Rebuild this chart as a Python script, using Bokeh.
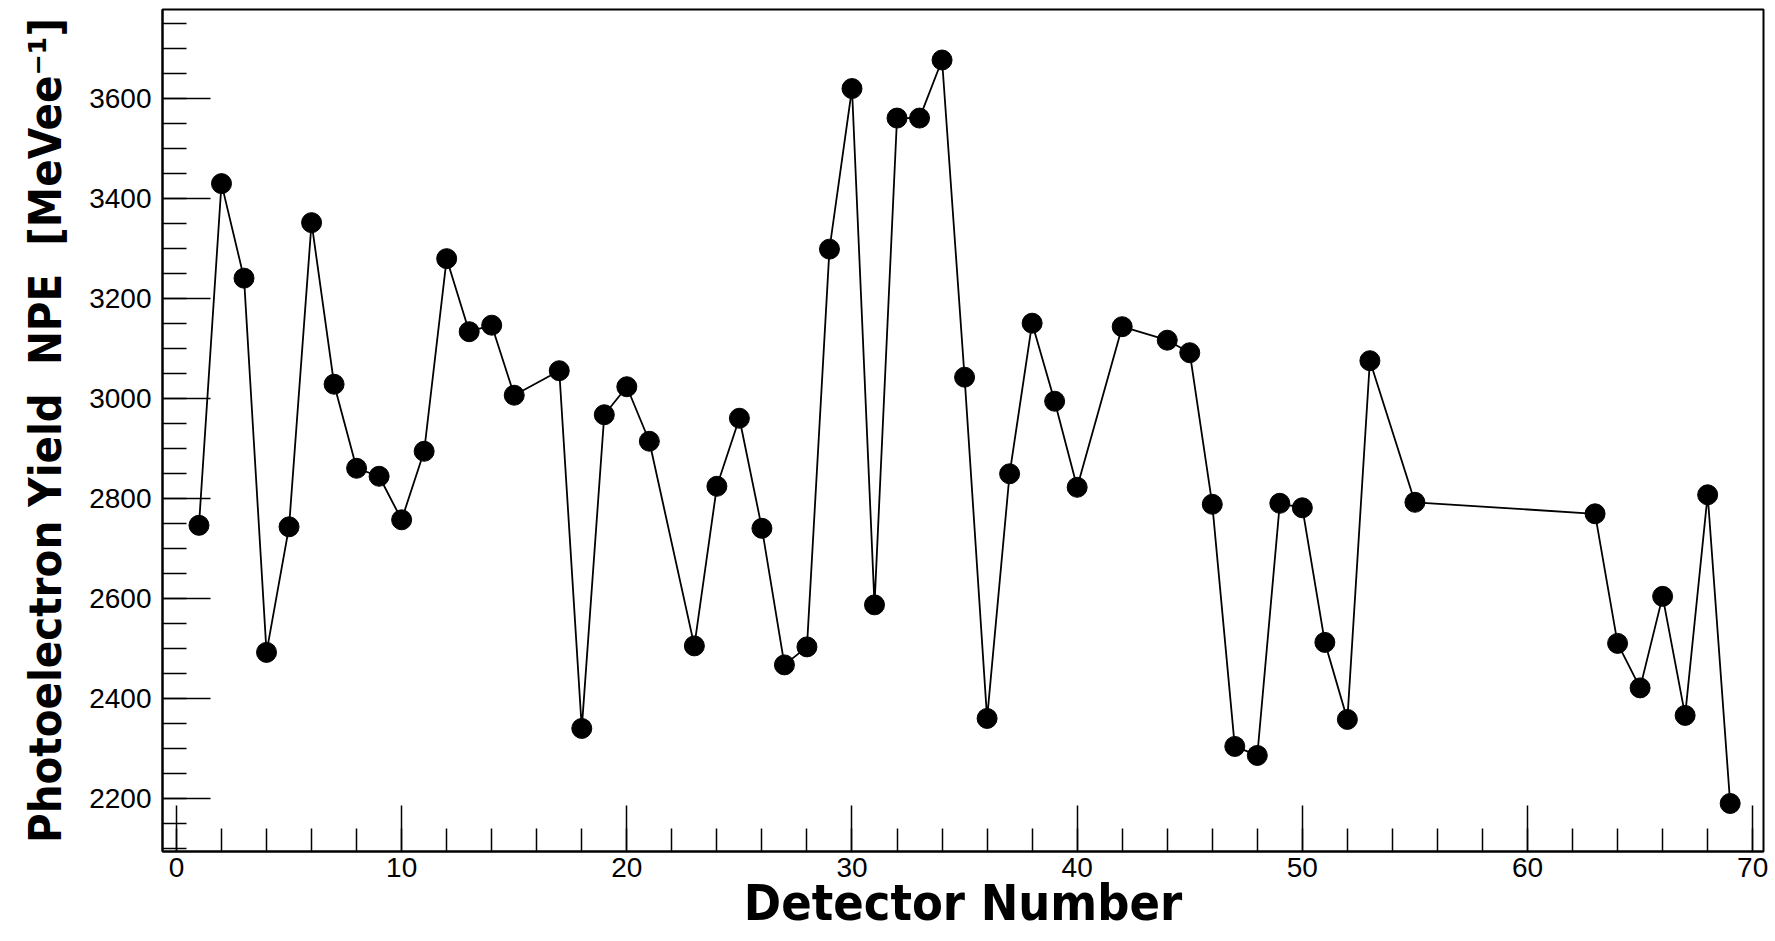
from bokeh.plotting import figure
from bokeh.models import SingleIntervalTicker, Range1d, ColumnDataSource
from bokeh.embed import file_html
from bokeh.resources import INLINE

# ---- data ----
detector = [1, 2, 3, 4, 5, 6, 7, 8, 9, 10, 11, 12, 13, 14, 15,
            17, 18, 19, 20, 21,
            23, 24, 25, 26, 27, 28, 29, 30, 31, 32, 33, 34, 35, 36, 37, 38, 39, 40,
            42,
            44, 45, 46, 47, 48, 49, 50, 51, 52, 53,
            55,
            63, 64, 65, 66, 67, 68, 69]
npe_yield = [2746, 3429, 3240, 2492, 2743, 3351, 3028, 2860, 2844, 2757, 2894, 3279, 3133, 3146, 3006,
             3055, 2340, 2967, 3023, 2914,
             2505, 2824, 2960, 2740, 2467, 2503, 3298, 3619, 2587, 3560, 3560, 3676, 3042, 2360, 2849, 3150, 2994, 2822,
             3143,
             3116, 3091, 2788, 2304, 2286, 2790, 2781, 2512, 2358, 3075,
             2792,
             2769, 2510, 2421, 2604, 2366, 2807, 2190]

x_title = "Detector Number"
y_title = "Photoelectron Yield\u00a0 NPE\u00a0 [MeVee\u207b\u00b9]"

TITLE_FONT = "DejaVu Sans Condensed"
TICK_FONT = "Liberation Sans"

X0, X1 = -0.62, 70.48
Y0, Y1 = 2094, 3777

src = ColumnDataSource(dict(x=detector, y=npe_yield))

W, H = 1775, 941
p = figure(width=W, height=H, output_backend="svg", toolbar_location=None,
           x_range=Range1d(X0, X1), y_range=Range1d(Y0, Y1),
           min_border_left=162, min_border_right=12, min_border_top=9, min_border_bottom=90)

p.background_fill_color = "white"
p.border_fill_color = "white"
p.outline_line_color = "black"
p.outline_line_width = 2
p.xgrid.visible = False
p.ygrid.visible = False

p.line("x", "y", source=src, line_color="black", line_width=1.8)
p.scatter("x", "y", source=src, size=20, marker="circle", fill_color="black", line_color="black")

xa = p.xaxis[0]
xa.ticker = SingleIntervalTicker(interval=10, num_minor_ticks=5)
xa.major_tick_in = 46
xa.major_tick_out = 0
xa.minor_tick_in = 23
xa.minor_tick_out = 0
xa.major_tick_line_width = 1.5
xa.minor_tick_line_width = 1.5
xa.axis_line_width = 2
xa.major_label_text_font = TICK_FONT
xa.major_label_text_font_size = "28px"
xa.major_label_text_color = "black"
xa.major_label_standoff = 6
xa.axis_label = x_title
xa.axis_label_text_font = TITLE_FONT
xa.axis_label_text_font_style = "bold"
xa.axis_label_text_font_size = "50px"
xa.axis_label_text_color = "black"
xa.axis_label_standoff = -6

ya = p.yaxis[0]
ya.ticker = SingleIntervalTicker(interval=200, num_minor_ticks=4)
ya.major_tick_in = 48
ya.major_tick_out = 0
ya.minor_tick_in = 24
ya.minor_tick_out = 0
ya.major_tick_line_width = 1.5
ya.minor_tick_line_width = 1.5
ya.axis_line_width = 2
ya.major_label_text_font = TICK_FONT
ya.major_label_text_font_size = "28px"
ya.major_label_text_color = "black"
ya.major_label_standoff = 11
ya.axis_label = y_title
ya.axis_label_text_font = TITLE_FONT
ya.axis_label_text_font_style = "bold"
ya.axis_label_text_font_size = "45px"
ya.axis_label_text_color = "black"
ya.axis_label_standoff = 14

open("out.html", "w").write(file_html(p, INLINE))
